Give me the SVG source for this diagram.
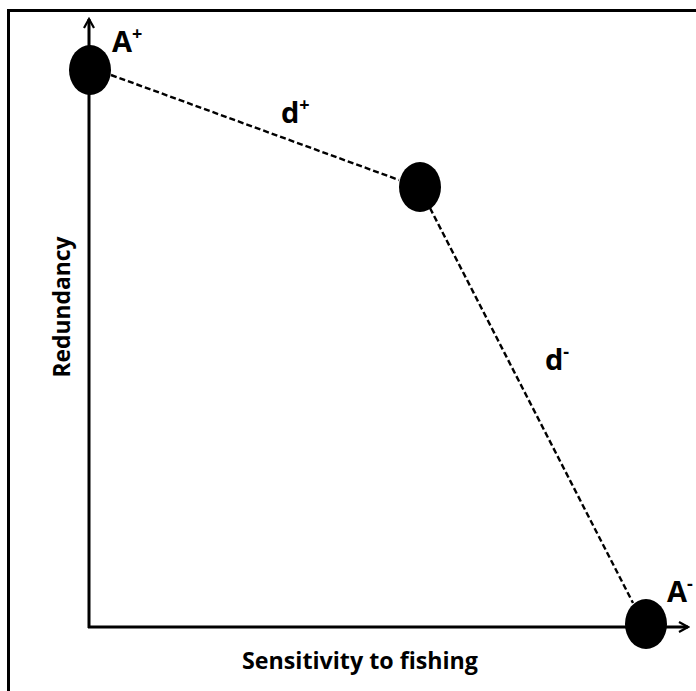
<svg xmlns="http://www.w3.org/2000/svg" width="696" height="691" viewBox="0 0 696 691">
<style>
.ax{stroke:#000;stroke-width:3;fill:none}
.dash{stroke:#000;stroke-width:2.4;stroke-dasharray:6,3;fill:none}
.node{fill:#000}
.lbl{font-family:"Open Sans","Liberation Sans",sans-serif;font-weight:bold;fill:#000}
</style>
<defs>
<marker id="arr" viewBox="0 0 12 12" refX="10" refY="6" markerWidth="12" markerHeight="12" markerUnits="userSpaceOnUse" orient="auto">
<path d="M1,1 L10,6 L1,11" fill="none" stroke="#000" stroke-width="2.2"/>
</marker>
</defs>
<rect x="0" y="0" width="696" height="691" fill="#fff"/>
<rect x="8.5" y="10.5" width="700" height="700" fill="none" stroke="#000" stroke-width="3"/>
<g id="connectors">
<line class="ax" x1="89" y1="628" x2="89" y2="19" marker-end="url(#arr)"/>
<line class="ax" x1="88" y1="627" x2="688" y2="627" marker-end="url(#arr)"/>
<line class="dash" x1="111" y1="75" x2="399" y2="180"/>
<line class="dash" x1="430" y1="208" x2="633" y2="603"/>
</g>
<g id="A_plus">
<ellipse class="node" cx="90" cy="70" rx="21" ry="25"/>
<text class="lbl" x="112" y="52" font-size="29">A<tspan font-size="18" dy="-12">+</tspan></text>
</g>
<g id="mid">
<ellipse class="node" cx="420" cy="187" rx="21" ry="25"/>
</g>
<g id="A_minus">
<ellipse class="node" cx="646" cy="624" rx="21" ry="25"/>
<text class="lbl" x="667" y="602" font-size="29">A<tspan font-size="18" dy="-12">-</tspan></text>
</g>
<text class="lbl" x="281" y="123" font-size="29">d<tspan font-size="18" dy="-12">+</tspan></text>
<text class="lbl" x="545" y="370" font-size="29">d<tspan font-size="18" dy="-12">-</tspan></text>
<text class="lbl" x="0" y="0" font-size="24" text-anchor="middle" textLength="141" lengthAdjust="spacingAndGlyphs" transform="translate(70,307) rotate(-90)">Redundancy</text>
<text class="lbl" x="360" y="669" font-size="24" text-anchor="middle" textLength="236" lengthAdjust="spacingAndGlyphs">Sensitivity to fishing</text>
</svg>
